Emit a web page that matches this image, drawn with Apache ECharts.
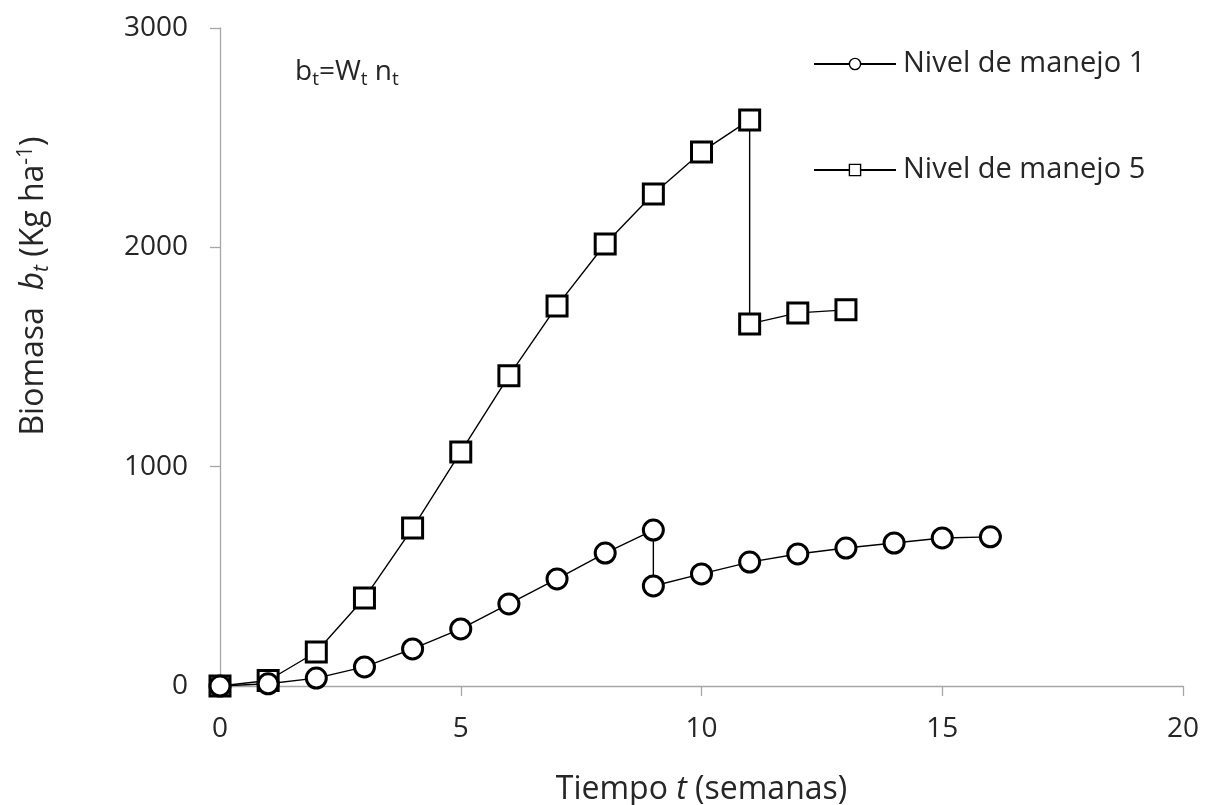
<!DOCTYPE html>
<html><head><meta charset="utf-8">
<script src="https://cdn.jsdelivr.net/npm/echarts@6/dist/echarts.min.js"></script>
<style>html,body{margin:0;padding:0;background:#fff}#c{width:1206px;height:805px}</style>
</head><body><div id="c"></div>
<script>
const seriesNames = ['Nivel de manejo 1', 'Nivel de manejo 5'];
const weeks1 = [0, 1, 2, 3, 4, 5, 6, 7, 8, 9, 9, 10, 11, 12, 13, 14, 15, 16];
const biomass1 = [0, 10, 36, 87, 169, 260, 374, 488, 606, 711, 456, 511, 565, 602, 629, 652, 675, 680];
const weeks5 = [0, 1, 2, 3, 4, 5, 6, 7, 8, 9, 10, 11, 11, 12, 13];
const biomass5 = [0, 25, 155, 401, 720, 1067, 1414, 1733, 2015, 2243, 2435, 2581, 1651, 1701, 1715];
const xTicks = [0, 5, 10, 15, 20];
const yTicks = [0, 1000, 2000, 3000];

const font = '"Open Sans", "Noto Sans", sans-serif';
const txt = '#262626';
const chart = echarts.init(document.getElementById('c'));
const pairs = (xs, ys) => xs.map((x, i) => [x, ys[i]]);
chart.setOption({
  animation: false,
  backgroundColor: '#fff',
  grid: { left: 220, right: 23, top: 28, bottom: 119, containLabel: false, outerBoundsMode: 'none' },
  xAxis: {
    type: 'value', min: xTicks[0], max: xTicks[xTicks.length - 1], interval: 5,
    axisLine: { show: true, lineStyle: { color: '#a6a6a6', width: 1.3 } },
    axisTick: { show: true, length: 10, lineStyle: { color: '#a6a6a6', width: 1.3 } },
    splitLine: { show: false },
    axisLabel: { fontFamily: font, fontSize: 28, color: txt, margin: 29, formatter: v => String(v) },
    name: '{n|Tiempo }{i|t}{n| (semanas)}', nameLocation: 'middle', nameGap: 88,
    nameTextStyle: { rich: {
      n: { fontFamily: font, fontSize: 32, color: txt },
      i: { fontFamily: font, fontSize: 32, color: txt, fontStyle: 'italic' } } }
  },
  yAxis: {
    type: 'value', min: yTicks[0], max: yTicks[yTicks.length - 1], interval: 1000,
    axisLine: { show: true, lineStyle: { color: '#a6a6a6', width: 1.3 } },
    axisTick: { show: true, length: 10, lineStyle: { color: '#a6a6a6', width: 1.3 } },
    splitLine: { show: false },
    axisLabel: { fontFamily: font, fontSize: 28, color: txt, margin: 32, formatter: v => String(v) }
  },
  legend: {
    orient: 'vertical', left: 808, top: 43, itemGap: 74, itemWidth: 82, itemHeight: 14,
    textStyle: { fontFamily: font, fontSize: 29, lineHeight: 32, color: txt, padding: [0, 0, 0, 2] },
    itemStyle: { borderWidth: 1.4 },
    data: seriesNames
  },
  graphic: [{
    type: 'text', left: 295, top: 58,
    style: { text: '{n|b}{s|t}{n|=W}{s|t}{n| n}{s|t}', rich: {
      n: { fontFamily: font, fontSize: 28, fill: txt },
      s: { fontFamily: font, fontSize: 19, fill: txt, padding: [16, 0, 0, 0] } } }
  }, {
    type: 'text', x: 34, y: 286, rotation: Math.PI / 2,
    style: { text: '{n|Biomasa  }{i|b}{s|t}{n| (Kg ha}{p|-1}{n|)}', align: 'center', verticalAlign: 'middle', rich: {
      n: { fontFamily: font, fontSize: 32, fill: txt },
      i: { fontFamily: font, fontSize: 32, fill: txt, fontStyle: 'italic' },
      s: { fontFamily: font, fontSize: 21, fill: txt, fontStyle: 'italic', padding: [16, 0, 0, 0] },
      p: { fontFamily: font, fontSize: 21, fill: txt, padding: [0, 0, 16, 0] } } }
  }],
  series: [
    { name: seriesNames[0], type: 'line', data: pairs(weeks1, biomass1), symbol: 'circle', symbolSize: 20,
      lineStyle: { color: '#000', width: 1.4 },
      itemStyle: { color: '#fff', borderColor: '#000', borderWidth: 3 }, z: 3 },
    { name: seriesNames[1], type: 'line', data: pairs(weeks5, biomass5), symbol: 'rect', symbolSize: 20,
      lineStyle: { color: '#000', width: 1.4 },
      itemStyle: { color: '#fff', borderColor: '#000', borderWidth: 3 }, z: 2 }
  ]
});
</script></body></html>
